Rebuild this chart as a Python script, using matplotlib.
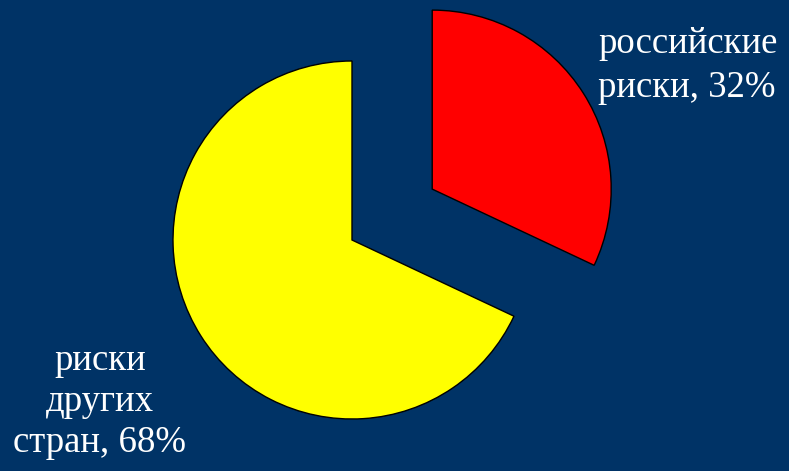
import matplotlib as mpl
import matplotlib.pyplot as plt

BG = "#003366"

labels = ["российские\nриски, 32%", "риски\nдругих\nстран, 68%"]
shares = [32, 68]
colors = ["#FF0000", "#FFFF00"]

mpl.rcParams.update({
    "font.family": ["Liberation Serif", "DejaVu Serif"],
})

fig = plt.figure(figsize=(7.89, 4.71), dpi=100, facecolor=BG)
ax = fig.add_axes([0, 0, 1, 1])
ax.set_facecolor(BG)

ax.pie(shares, colors=colors, startangle=90, counterclock=False,
       explode=[95, 0], center=(352, 231), radius=179,
       wedgeprops={"edgecolor": "black", "linewidth": 1.0},
       frame=True)
ax.set_xlim(0, 789)
ax.set_ylim(0, 471)
ax.set_aspect("equal")
ax.axis("off")

ax.text(598, 471 - 66, labels[0], color="white", fontsize=26.5,
        ha="left", va="center", linespacing=1.36)
ax.text(100, 471 - 402, labels[1], color="white", fontsize=26.5,
        ha="center", va="center", multialignment="center",
        linespacing=1.25)

fig.savefig("out.png", dpi=100, facecolor=BG)
